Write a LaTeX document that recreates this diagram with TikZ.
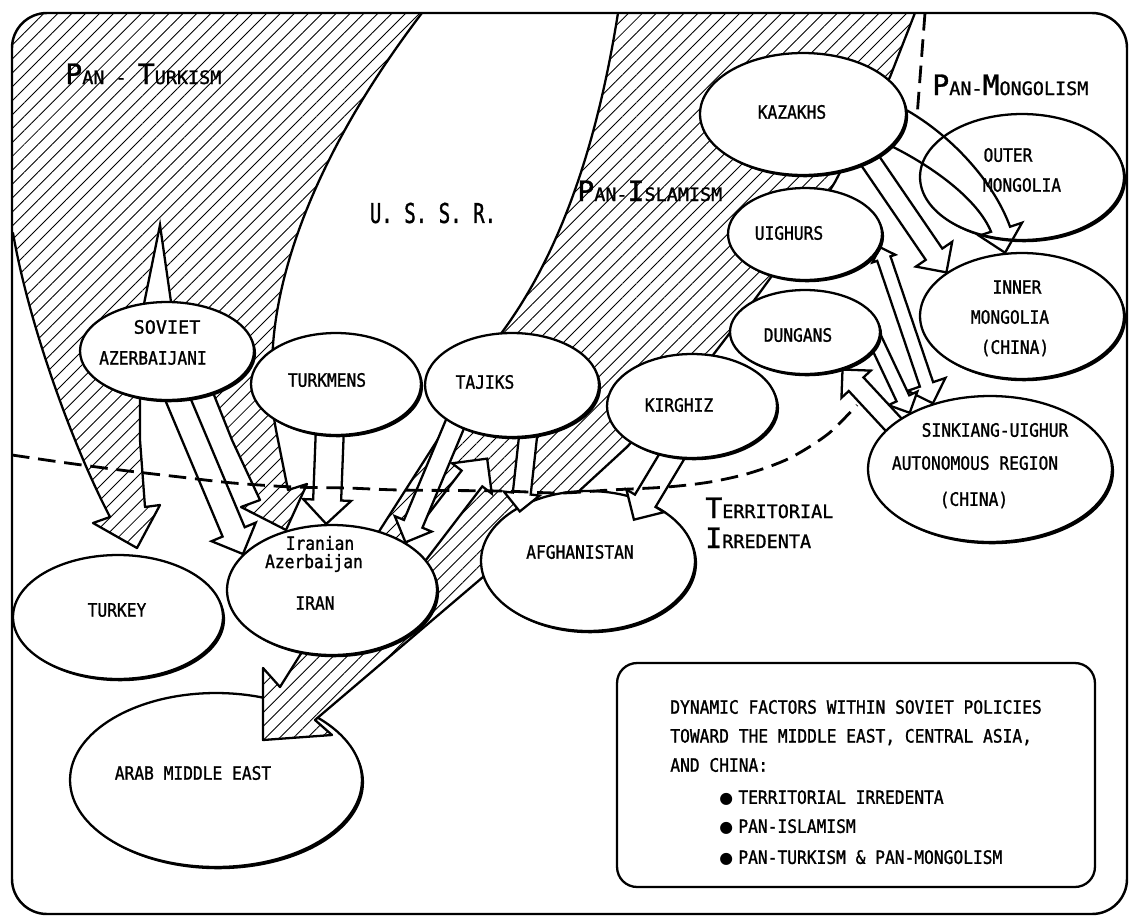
\documentclass[tikz,border=0pt]{standalone}
\usepackage{fontspec}
\usetikzlibrary{calc,shapes.geometric,patterns.meta,shadows}
\newfontfamily\tw[FakeStretch=0.88,FakeBold=1.2]{DejaVu Sans Mono}
\newfontfamily\hd[FakeBold=1.2]{DejaVu Sans Mono}
\newfontfamily\tn[FakeStretch=0.7,FakeBold=1.2]{DejaVu Sans Mono}
\newfontfamily\dv{DejaVu Sans}
\pgfdeclarelayer{under}
\pgfdeclarelayer{hatch}
\pgfdeclarelayer{mid}
\pgfdeclarelayer{bg}
\pgfsetlayers{under,hatch,mid,bg,main}
\newcommand\SCc[2]{{\fontsize{16}{16}\selectfont #1}{\fontsize{10.5}{12}\selectfont #2}}
% block arrow: start, tip, shaft half width, head half width (px)
\newcommand\barrow[5][]{%
  \coordinate (ba-s) at ($(#2)!-0.24cm!(#3)$);
  \coordinate (ba-h) at ($(#3)!#5*0.02cm!(ba-s)$);
  \draw[barr,#1] ($(ba-s)!#4*0.02cm!90:(#3)$) -- ($(ba-h)!#4*0.02cm!90:(#3)$) -- ($(ba-h)!#5*0.02cm!90:(#3)$) -- (#3) -- ($(ba-h)!#5*0.02cm!-90:(#3)$) -- ($(ba-h)!#4*0.02cm!-90:(#3)$) -- ($(ba-s)!#4*0.02cm!-90:(#3)$) -- cycle;}
% double headed block arrow: tip1, tip2, shaft half, head1 half, head2 half
\newcommand\dbarrow[6][]{%
  \coordinate (ba-a) at ($(#2)!#5*0.02cm!(#3)$);
  \coordinate (ba-b) at ($(#3)!#6*0.02cm!(#2)$);
  \draw[barr,#1] (#2) -- ($(ba-a)!#5*0.02cm!90:(#3)$) -- ($(ba-a)!#4*0.02cm!90:(#3)$) -- ($(ba-b)!#4*0.02cm!90:(#3)$) -- ($(ba-b)!#6*0.02cm!90:(#3)$) -- (#3) -- ($(ba-b)!#6*0.02cm!-90:(#3)$) -- ($(ba-b)!#4*0.02cm!-90:(#3)$) -- ($(ba-a)!#4*0.02cm!-90:(#3)$) -- ($(ba-a)!#5*0.02cm!-90:(#3)$) -- cycle;}
\tikzset{
  reg/.style={ellipse, draw, line width=1.3pt, fill=white, inner sep=0pt,
    drop shadow={shadow xshift=1.2pt, shadow yshift=-1.3pt, opacity=1, fill=black}},
  lbl/.style={font={\tw\fontsize{10.5}{12}\selectfont}, inner sep=0pt, align=center},
  lgd/.style={font={\tw\fontsize{10.5}{12}\selectfont}, inner sep=0pt, anchor=west},
  hdl/.style={font=\hd, inner sep=0pt, anchor=base west},
  barr/.style={draw, line width=1.3pt, fill=white, line join=miter},
  oarr/.style={draw, line width=1.3pt, line join=miter},
  band/.style={draw, line width=1.3pt, line join=round, preaction={fill=white},
    pattern={Lines[angle=45,distance=5.6pt,line width=0.5pt]}},
  tdash/.style={line width=1.6pt, dash pattern=on 10pt off 5pt},
  frame/.style={line width=1.4pt, rounded corners=0.7cm}
}
\begin{document}
\begin{tikzpicture}[x=0.02cm,y=-0.02cm]
\useasboundingbox (0,0) rectangle (1130,920);

% ---------- region ellipses (main layer) ----------
\node[reg, minimum width=3.48cm, minimum height=1.96cm] (sovaz) at (167,351) {};
\node[reg, minimum width=3.4cm, minimum height=2.04cm] (turkmens) at (336,384) {};
\node[reg, minimum width=3.48cm, minimum height=2.08cm] (tajiks) at (512,385) {};
\node[reg, minimum width=3.4cm, minimum height=2.08cm] (kirghiz) at (692,406) {};
\node[reg, minimum width=4.12cm, minimum height=2.44cm] (kazakhs) at (803,114) {};
\node[reg, minimum width=3.08cm, minimum height=1.84cm] (uighurs) at (805,234) {};
\node[reg, minimum width=3.0cm, minimum height=1.68cm] (dungans) at (805,332) {};
\node[reg, minimum width=4.08cm, minimum height=2.52cm] (outer) at (1022,177) {};
\node[reg, minimum width=4.08cm, minimum height=2.52cm] (inner) at (1022,316) {};
\node[reg, minimum width=4.88cm, minimum height=2.92cm] (sinkiang) at (990,469) {};
\node[reg, minimum width=4.2cm, minimum height=2.6cm] (iran) at (332,590) {};
\node[reg, minimum width=4.2cm, minimum height=2.48cm] (turkey) at (118,617) {};

\begin{pgfonlayer}{under}
\node[reg, minimum width=5.84cm, minimum height=3.48cm] (arab) at (216,780) {};
\end{pgfonlayer}
\begin{pgfonlayer}{mid}
\node[reg, minimum width=4.28cm, minimum height=2.8cm] (afghan) at (588,561) {};
\end{pgfonlayer}

% ---------- hatched bands ----------
\begin{pgfonlayer}{hatch}
\begin{scope}
\clip[rounded corners=0.7cm] (12,13) rectangle (1127,914);
% Pan-Turkism
\path[band] (440,0) -- (0,0) -- (0,233) -- (13,233) .. controls (28,320) and (70,440) .. (110,517)
  -- (93,523) -- (137,548) -- (160,505) -- (145,507) -- (140,440) -- (140,385) -- (210,385)
  -- (232,440) -- (260,500) -- (241,507) -- (286,530) -- (307,484) -- (288,490) -- (276,430)
  -- (270,395) -- (273,345) .. controls (280,250) and (330,130) .. (432,0) -- cycle;
% Pan-Islamism
\path[band] (620,0) .. controls (605,100) and (575,235) .. (500,335) -- (440,436) -- (302,652)
  -- (280,687) -- (263,668) -- (263,740) -- (332,735) -- (315,720) -- (483,577) -- (578,492)
  -- (627,447) -- (713,355) .. controls (740,320) and (800,240) .. (835,182) -- (890,77)
  -- (920,0) -- cycle;
\end{scope}
\end{pgfonlayer}

% ---------- white block arrows ----------
\begin{pgfonlayer}{bg}
\coordinate (spike) at (160,225);
\draw[barr] ($(sovaz.north)+(-24,8)$) -- (spike) -- ($(sovaz.north)+(5,8)$) -- cycle;
\barrow{sovaz.-77}{iran.158}{12}{24}
\barrow{turkmens.-97}{iran.95}{14}{24}
\coordinate (upTip) at ($(tajiks.-112)+(-4,22)$);
\barrow{iran.25}{upTip}{13}{25}
\barrow{tajiks.-145}{iran.33}{10}{20}
\coordinate (taTip) at ($(afghan.center)!0.94!(afghan.144)$);
\barrow{tajiks.-73}{taTip}{9}{18}
\coordinate (kaTip) at ($(afghan.center)!0.72!(afghan.42)$);
\barrow{kirghiz.-112}{kaTip}{12}{22}
\barrow{kazakhs.-35}{inner.150}{10}{22}
\dbarrow{uighurs.-10}{sinkiang.131}{7}{12}{20}
\barrow{dungans.-10}{sinkiang.145}{7}{16}
\barrow{sinkiang.155}{dungans.-45}{10}{20}
% territorial irredenta boundary
\draw[tdash] plot[smooth, tension=0.5] coordinates {(12,455) (60,462) (120,470) (180,477) (233,483)
  (293,487) (347,488) (400,490) (500,491) (560,493) (610,490) (667,487) (710,482) (750,473)
  (790,458) (828,434) (857,405)};
% pan-mongolism boundary
\draw[tdash] (925,13) -- (917,117);
\end{pgfonlayer}

% ---------- curved arrow over Outer Mongolia ----------
\coordinate (bTip) at (inner.105);
\draw[oarr] (kazakhs.2) .. controls (950,135) and (993,180) .. ($(bTip)+(5,-26)$)
  -- ($(bTip)+(17,-30)$) -- (bTip) -- ($(bTip)+(-26,-17)$) -- ($(bTip)+(-14,-21)$)
  .. controls (978,200) and (935,168) .. (kazakhs.-20);

% ---------- labels ----------
\node[hdl] (hPT) at (65,84) {\SCc{P}{AN - }\SCc{T}{URKISM}};
\node[hdl] (hPI) at (577,201) {\SCc{P}{AN-}\SCc{I}{SLAMISM}};
\node[hdl] (hPM) at (932,95) {\SCc{P}{AN-}\SCc{M}{ONGOLISM}};
\node[hdl] (hTI1) at (705,518) {\SCc{T}{ERRITORIAL}};
\node[hdl] (hTI2) at (705,548) {\SCc{I}{RREDENTA}};
\node[font={\tn\fontsize{15.5}{16}\selectfont}, inner sep=0pt] (ussr) at (433,213) {U. S. S. R.};

\node[lbl, font={\hd\fontsize{10.5}{12}\selectfont}] (tSov1) at (167,327) {SOVIET};
\node[lbl] (tSov2) at (153,358) {AZERBAIJANI};
\node[lbl] (tTurkm) at (327,380) {TURKMENS};
\node[lbl] (tTaj) at (485,382) {TAJIKS};
\node[lbl] (tKir) at (679,405) {KIRGHIZ};
\node[lbl] (tKaz) at (792,112) {KAZAKHS};
\node[lbl] (tUig) at (789,233) {UIGHURS};
\node[lbl] (tDun) at (798,335) {DUNGANS};
\node[lbl] (tOut1) at (1008,155) {OUTER};
\node[lbl] (tOut2) at (1022,185) {MONGOLIA};
\node[lbl] (tInn1) at (1017,287) {INNER};
\node[lbl] (tInn2) at (1010,317) {MONGOLIA};
\node[lbl] (tInn3) at (1015,348) {(CHINA)};
\node[lbl] (tSin1) at (995,430) {SINKIANG-UIGHUR};
\node[lbl] (tSin2) at (975,463) {AUTONOMOUS REGION};
\node[lbl] (tSin3) at (974,500) {(CHINA)};
\node[lbl] (tAfg) at (580,552) {AFGHANISTAN};
\node[lbl] (tIr1) at (320,543) {Iranian};
\node[lbl] (tIr2) at (314,563) {Azerbaijan};
\node[lbl] (tIr3) at (315,603) {IRAN};
\node[lbl] (tTur) at (117,610) {TURKEY};
\node[lbl] (tArab) at (193,773) {ARAB MIDDLE EAST};

% ---------- legend ----------
\node[draw, line width=1.3pt, rounded corners=0.4cm, minimum width=9.56cm, minimum height=4.48cm,
  inner sep=0pt] (legend) at (856,775) {};
\node[lgd] (lg1) at (670,707) {DYNAMIC FACTORS WITHIN SOVIET POLICIES};
\node[lgd] (lg2) at (670,737) {TOWARD THE MIDDLE EAST, CENTRAL ASIA,};
\node[lgd] (lg3) at (670,765) {AND CHINA:};
\node[lgd] (lg4) at (719,798) {{\dv\fontsize{9}{9}\selectfont ●}\hspace{3pt}TERRITORIAL IRREDENTA};
\node[lgd] (lg5) at (719,827) {{\dv\fontsize{9}{9}\selectfont ●}\hspace{3pt}PAN-ISLAMISM};
\node[lgd] (lg6) at (719,858) {{\dv\fontsize{9}{9}\selectfont ●}\hspace{3pt}PAN-TURKISM \& PAN-MONGOLISM};

% ---------- frame ----------
\draw[frame] (12,13) rectangle (1127,914);
\end{tikzpicture}
\end{document}
